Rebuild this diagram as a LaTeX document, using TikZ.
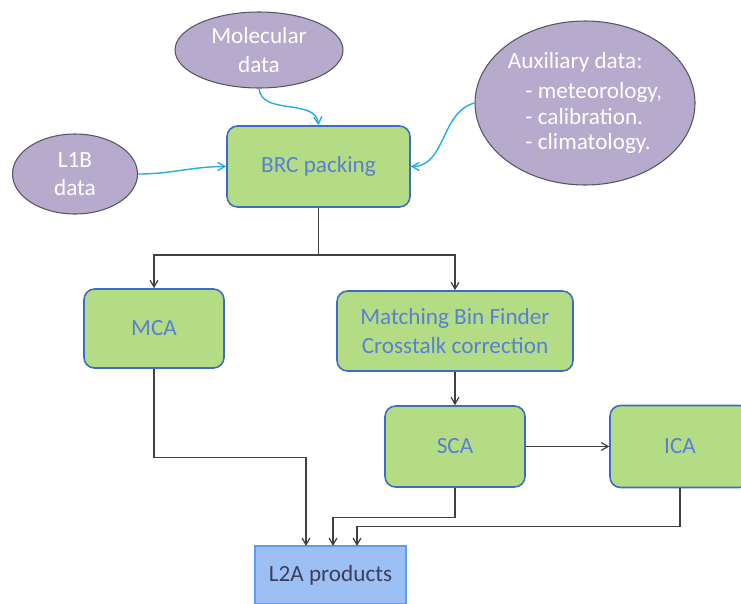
\documentclass[tikz,border=0pt]{standalone}
\usepackage{fontspec}
\setmainfont{Carlito}
\usetikzlibrary{arrows}
\usetikzlibrary{positioning}
\usetikzlibrary{shapes.geometric}

\definecolor{boxgreen}{RGB}{180,220,132}
\definecolor{boxedge}{RGB}{58,108,200}
\definecolor{boxtext}{RGB}{90,128,214}
\definecolor{datafill}{RGB}{182,170,205}
\definecolor{dataedge}{RGB}{88,84,100}
\definecolor{prodfill}{RGB}{156,192,244}
\definecolor{prodedge}{RGB}{92,158,234}
\definecolor{prodtext}{RGB}{60,62,92}
\definecolor{feed}{RGB}{40,172,228}
\definecolor{flow}{RGB}{64,64,64}

\begin{document}
\begin{tikzpicture}
	[font=\fontsize{13.2}{16}\selectfont,>=angle 60,
	every node/.style={inner sep=0pt,align=center},
	proc/.style={rectangle,rounded corners=6pt,draw=boxedge,line width=0.9pt,fill=boxgreen,text=boxtext},
	datanode/.style={ellipse,draw=dataedge,line width=0.6pt,fill=datafill,text=white},
	feedline/.style={->,draw=feed,line width=0.8pt},
	flowline/.style={->,draw=flow,line width=0.7pt}]
	\useasboundingbox (0,0) rectangle (14.82,-12.06);
	% inputs
	\node[datanode,minimum width=3.36cm,minimum height=1.52cm] (mol) at (5.18,-1.00) {Molecular\\data};
	\node[datanode,minimum width=2.5cm,minimum height=1.6cm] (l1b) at (1.50,-3.48) {L1B\\data};
	\node[datanode,minimum width=4.4cm,minimum height=3.28cm,align=left,font=\fontsize{13.2}{14.5}\selectfont] (aux) at (11.70,-2.06)
		{Auxiliary data:\\[3pt] \hspace*{10pt}- meteorology,\\ \hspace*{10pt}- calibration.\\ \hspace*{10pt}- climatology.};
	% processing
	\node[proc,minimum width=3.66cm,minimum height=1.62cm] (brc) at (6.37,-3.33) {BRC packing};
	\node[proc,minimum width=2.8cm,minimum height=1.58cm] (mca) at (3.08,-6.57) {MCA};
	\node[proc,minimum width=4.72cm,minimum height=1.6cm] (mbf) at (9.10,-6.62) {Matching Bin Finder\\Crosstalk correction};
	\node[proc,minimum width=2.8cm,minimum height=1.62cm] (sca) at (9.10,-8.93) {SCA};
	\node[proc,minimum width=2.8cm,minimum height=1.64cm] (ica) at (13.60,-8.93) {ICA};
	% output
	\node[rectangle,draw=prodedge,line width=0.9pt,fill=prodfill,text=prodtext,minimum width=3.02cm,minimum height=1.16cm] (l2a) at (6.61,-11.50) {L2A products};
	\coordinate (split) at (6.37,-5.10);
	\coordinate (in1) at (6.12,-10.92);
	\coordinate (in2) at (6.66,-10.92);
	\coordinate (in3) at (7.14,-10.92);

	\draw[feedline] (mol.south) to[out=-85,in=95] (brc.north);
	\draw[feedline] (l1b.east) to[out=0,in=180] (brc.west);
	\draw[feedline] (aux.west) to[out=195,in=0] (brc.east);

	\draw[flowline,-] (brc) -- (split);
	\foreach \to in {mca,mbf}
	\draw[flowline] (split) -| (\to);
	\draw[flowline] (mbf) -- (sca);
	\draw[flowline] (sca) -- (ica);
	\foreach \from/\drop/\to in {mca/1.78/in1, sca/0.60/in2, ica/0.77/in3}
	\draw[flowline] (\from.south) -- ++(0,-\drop) -| (\to);
\end{tikzpicture}
\end{document}
